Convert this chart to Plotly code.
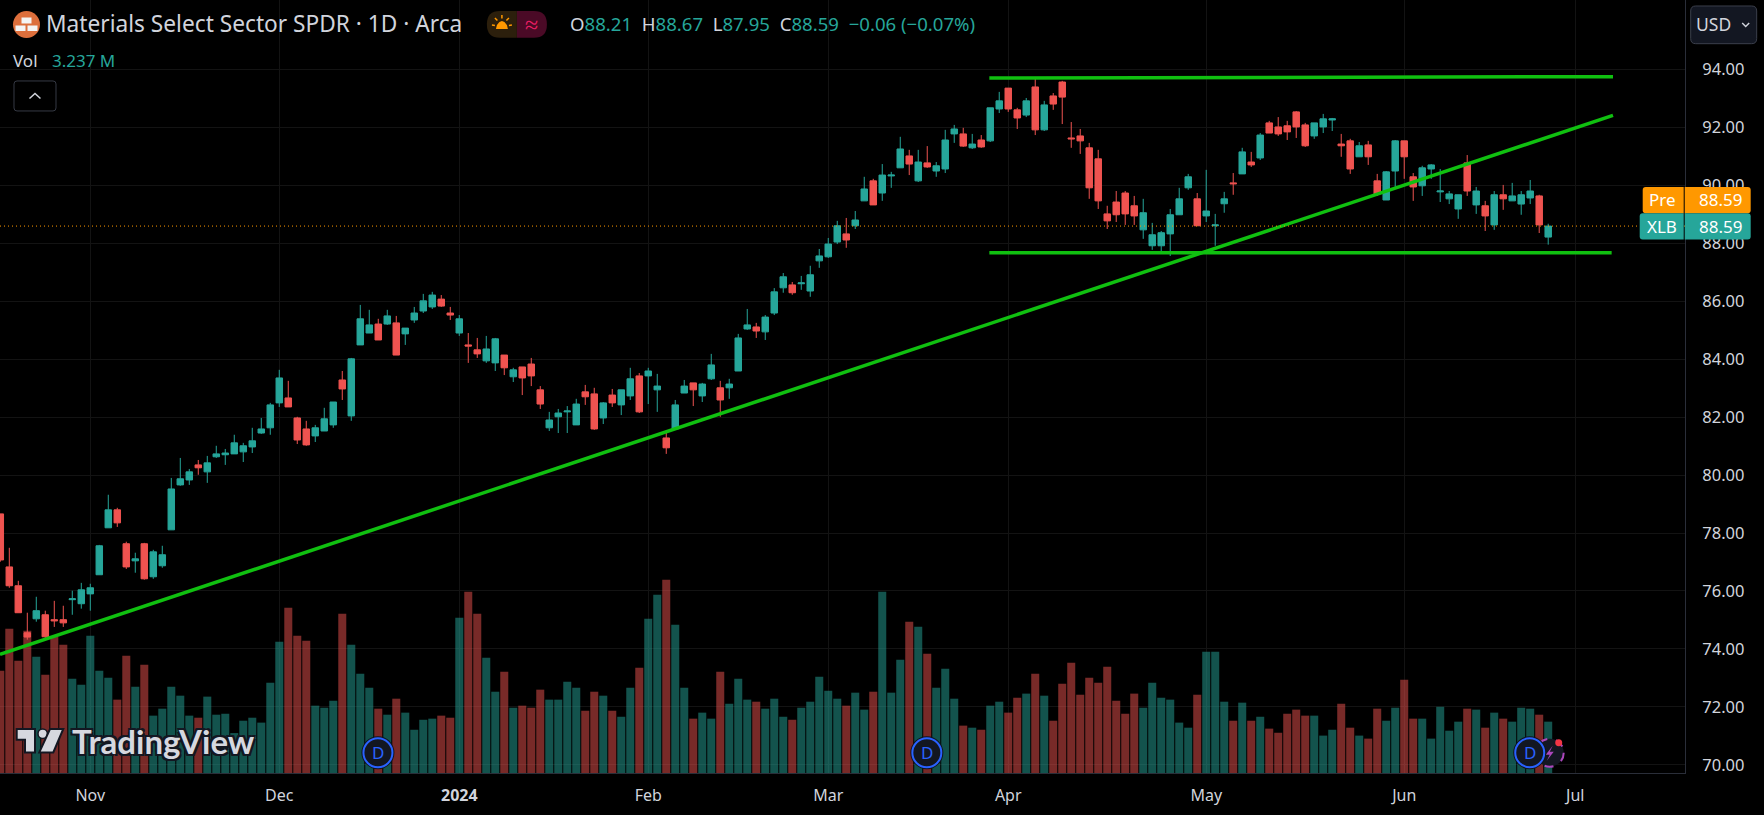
import plotly.graph_objects as go

# ---------- data (bar 0 = first session of Nov 2023) ----------
bar_index = list(range(-10, 163))
opens = [
78.66,76.83,76.18,74.56,75.04,75.18,75.01,75.01,75.70,75.56,
75.90,76.56,78.18,78.80,77.63,77.04,77.63,76.49,76.87,78.11,
79.66,79.83,80.35,80.11,80.63,80.70,80.73,80.80,80.97,81.45,
81.63,82.49,82.66,81.97,81.59,81.35,81.52,81.73,83.28,82.04,
84.49,84.90,85.21,85.21,85.25,84.87,85.35,85.66,85.80,86.07,
85.59,84.90,84.49,84.32,83.94,83.87,84.14,83.39,83.73,83.83,
82.94,81.63,82.01,82.18,81.73,82.87,82.80,81.97,82.76,82.42,
82.73,83.42,83.42,82.94,81.28,81.59,82.83,83.18,82.73,83.32,
83.01,83.01,83.59,85.04,85.11,84.94,85.59,86.46,86.56,86.60,
86.35,87.39,87.53,88.04,88.32,88.60,89.46,90.15,89.73,90.32,
90.60,91.01,90.15,90.77,90.49,90.56,91.77,91.77,91.29,91.56,
91.53,92.63,93.35,92.60,92.42,93.39,91.91,93.08,93.56,91.63,
91.70,91.29,90.91,89.01,89.42,89.73,89.29,88.46,87.91,87.91,
88.32,88.98,89.91,89.53,88.94,88.60,89.36,90.08,90.39,90.80,
90.94,92.15,92.01,92.05,92.53,92.08,91.70,92.01,92.25,91.42,
91.53,90.98,91.39,90.15,89.49,90.49,91.53,90.29,89.98,90.56,
89.77,89.53,89.18,90.77,89.32,89.29,88.63,89.67,89.46,89.35,
89.56,89.63,88.21]
closes = [
77.07,76.18,75.25,74.41,75.32,74.42,74.97,74.90,75.73,76.04,
76.11,77.56,78.80,78.35,76.83,77.11,76.42,77.35,77.25,79.52,
79.87,80.11,80.25,80.42,80.73,80.76,81.11,81.01,81.18,81.59,
82.42,83.35,82.35,81.21,81.04,81.63,81.94,82.52,82.97,84.01,
85.39,85.18,84.66,85.49,84.14,85.07,85.59,86.01,86.21,85.83,
85.52,85.39,84.45,84.18,84.35,84.70,83.70,83.63,83.35,83.42,
82.45,81.90,82.14,82.21,82.45,82.70,81.59,82.49,82.49,82.94,
83.32,82.18,83.59,83.07,80.94,82.42,83.07,82.94,83.14,83.80,
82.59,83.14,84.73,85.18,84.97,85.45,86.32,86.84,86.29,86.63,
86.91,87.56,87.97,88.60,88.11,88.80,89.87,89.32,90.35,90.35,
91.25,90.73,90.80,90.63,90.67,91.56,91.94,91.35,91.42,91.32,
92.67,92.91,92.63,92.32,92.91,91.91,92.77,92.80,93.04,91.60,
91.53,89.91,89.46,88.77,88.98,89.01,88.94,89.05,88.29,88.36,
88.98,89.53,90.29,88.60,89.11,88.63,89.53,90.05,91.15,90.70,
91.73,91.80,91.77,91.84,92.01,91.36,92.15,92.29,92.29,91.36,
90.56,91.36,90.98,89.70,90.46,91.53,90.98,89.94,90.60,90.70,
89.80,89.70,89.67,89.80,89.80,88.94,89.67,89.53,89.63,89.67,
89.80,88.63,88.59]
highs = [
78.66,77.49,76.35,75.25,75.80,75.32,75.66,75.49,76.01,76.28,
76.25,77.59,79.32,78.87,77.70,77.32,77.66,77.42,77.56,79.90,
80.59,80.21,80.52,80.66,81.01,80.90,81.39,81.11,81.63,81.97,
82.49,83.63,83.25,82.01,81.87,81.73,82.32,82.52,83.59,84.04,
85.87,85.70,85.39,85.70,85.49,85.07,85.80,86.25,86.32,86.21,
85.80,85.52,84.90,84.73,84.80,84.73,84.14,83.70,83.73,84.04,
83.07,82.18,82.28,82.38,82.63,83.11,83.01,82.52,82.97,82.94,
83.70,83.52,83.70,83.49,81.49,82.59,83.28,83.18,83.18,84.18,
83.25,83.32,84.87,85.73,85.25,85.52,86.45,86.97,86.66,86.87,
87.22,87.80,88.18,88.77,88.87,89.11,90.29,90.22,90.73,90.46,
91.67,91.22,91.22,91.35,90.80,91.91,92.08,91.98,91.77,91.73,
92.67,93.22,93.35,92.67,93.01,93.70,92.91,93.18,93.60,92.18,
91.94,91.46,91.22,89.29,89.80,89.80,89.63,89.53,88.70,88.42,
89.18,89.91,90.39,89.73,90.53,89.01,89.77,90.42,91.29,91.15,
91.80,92.22,92.35,92.22,92.56,92.15,92.15,92.46,92.32,91.77,
91.60,91.49,91.53,90.39,90.49,91.56,91.53,90.42,90.67,90.73,
90.56,89.80,89.67,91.04,89.94,89.46,89.80,90.01,90.08,89.80,
90.18,89.67,88.67]
lows = [
77.01,76.11,75.25,74.32,74.94,74.35,74.76,74.76,75.18,75.39,
75.32,76.56,78.18,78.21,76.76,76.63,76.39,76.42,76.80,78.11,
79.63,79.66,80.01,79.73,80.59,80.35,80.73,80.45,80.76,81.42,
81.39,82.35,82.35,81.07,81.01,81.14,81.52,81.63,82.59,81.87,
84.49,84.90,84.66,85.18,84.14,84.49,85.25,85.59,85.73,85.80,
85.35,84.80,83.87,84.04,83.87,83.59,83.45,83.21,82.76,83.07,
82.28,81.52,81.45,81.45,81.73,82.42,81.56,81.76,82.35,82.07,
82.59,82.14,82.45,82.18,80.73,81.59,82.83,82.38,82.52,83.28,
82.01,82.63,83.59,85.01,84.73,84.66,85.52,86.29,86.22,86.39,
86.15,87.15,87.49,87.97,87.84,88.49,89.46,89.32,89.46,89.91,
90.60,90.35,90.11,90.60,90.29,90.42,91.46,91.32,91.25,91.29,
91.49,92.49,92.53,91.94,92.35,91.73,91.87,92.60,92.11,91.29,
91.08,89.53,89.18,88.49,88.73,88.63,88.63,88.15,87.77,87.67,
87.56,88.98,89.84,88.60,88.73,87.91,89.05,89.67,90.39,90.63,
90.87,91.80,91.70,91.56,91.63,91.32,91.60,91.80,91.87,90.98,
90.39,90.98,90.70,89.63,89.49,89.94,90.22,89.46,89.63,90.22,
89.42,89.35,88.84,89.63,89.01,88.42,88.46,89.15,89.46,88.98,
89.35,88.35,87.95]
volumes_m = [
6.46,9.11,7.09,8.98,7.34,6.20,8.60,8.10,5.95,5.57,
8.66,6.46,6.01,4.63,7.40,5.45,6.83,3.62,4.06,5.45,
4.88,3.62,3.49,4.82,3.68,3.74,2.52,3.30,3.49,3.18,
5.70,8.29,10.43,8.66,8.35,4.25,4.12,4.56,10.05,8.10,
6.27,5.38,4.06,3.68,4.69,3.81,2.73,3.36,3.43,3.62,
3.49,9.80,11.44,10.05,7.28,5.13,6.39,4.12,4.25,4.12,
5.26,4.63,4.63,5.76,5.38,3.93,5.13,4.88,3.93,3.55,
5.38,6.65,9.74,11.25,12.20,9.36,5.38,3.43,3.81,3.43,
6.39,4.37,5.95,4.63,4.50,4.06,4.69,3.55,3.36,4.12,
4.50,6.08,5.19,4.69,4.25,5.07,4.00,5.13,11.44,5.07,
7.15,9.55,9.23,7.53,5.38,6.58,4.69,2.99,2.86,2.73,
4.25,4.50,3.81,4.75,5.01,6.27,4.88,3.30,5.64,6.96,
4.94,6.01,5.70,6.71,4.56,3.74,5.01,4.12,5.70,4.75,
4.63,3.18,2.86,4.94,7.65,7.65,4.50,3.30,4.44,3.30,
3.55,2.80,2.54,3.74,4.00,3.62,3.62,2.36,2.73,4.37,
2.86,2.36,2.17,4.06,3.30,4.12,5.89,3.43,3.43,2.17,
4.18,2.67,3.24,4.06,4.00,2.86,3.81,3.43,3.24,4.12,
4.06,3.68,3.24]

tick_bars = [0, 21, 41, 62, 82, 102, 124, 146, 165]
tick_labels = ["Nov", "Dec", "<b>2024</b>", "Feb", "Mar", "Apr", "May", "Jun", "Jul"]
price_ticks = [70, 72, 74, 76, 78, 80, 82, 84, 86, 88, 90, 92, 94]

trend_x = [-10.03, 169.2]
trend_y = [73.81, 92.41]
top_x = [99.9, 169.2]
top_y = [93.70, 93.745]
floor_x = [99.9, 169.05]
floor_y = [87.67, 87.67]
last_price = 88.59

# ---------- palette ----------
UP, DOWN = "#26a69a", "#ef5350"
GREEN = "#10c010"
TXT = "#d1d4dc"
GRID = "#131313"
AXIS = "#2a2e39"
PANEL = "#131722"
FONT = "Noto Sans"

W, H = 1764, 815
PW, PH = 1685.3, 773.3     # plot area, anchored top-left


def fx(p): return p / PW
def fy(p): return 1 - p / PH
def pt(x, y): return f"{fx(x):.6f},{fy(y):.6f}"


def rrect(x0, y0, x1, y1, r=4, left=True, right=True):
    rl = r if left else 0
    rr = r if right else 0
    return (f"M{pt(x0 + rl, y0)} L{pt(x1 - rr, y0)} Q{pt(x1, y0)} {pt(x1, y0 + rr)} "
            f"L{pt(x1, y1 - rr)} Q{pt(x1, y1)} {pt(x1 - rr, y1)} L{pt(x0 + rl, y1)} "
            f"Q{pt(x0, y1)} {pt(x0, y1 - rl)} L{pt(x0, y0 + rl)} Q{pt(x0, y0)} {pt(x0 + rl, y0)} Z")


def poly(points):
    return "M" + " L".join(pt(x, y) for x, y in points) + " Z"


shapes, notes = [], []


def add_path(path, fill, line=None, width=0):
    shapes.append(dict(type="path", xref="paper", yref="paper", path=path, fillcolor=fill,
                       line=dict(color=line or fill, width=width), layer="above"))


def add_circle(cx, cy, r, fill, line=None, width=0, dash=None):
    shapes.append(dict(type="circle", xref="paper", yref="paper", x0=fx(cx - r), x1=fx(cx + r),
                       y0=fy(cy + r), y1=fy(cy - r), fillcolor=fill,
                       line=dict(color=line or fill, width=width, dash=dash or "solid"), layer="above"))


def txt(x, y, s, size, color=TXT, anchor="left", font=FONT, weight=None, shadow=None):
    f = dict(size=size, color=color, family=font)
    if weight:
        f["weight"] = weight
    if shadow:
        f["shadow"] = shadow
    notes.append(dict(xref="paper", yref="paper", x=fx(x), y=fy(y), text=s, showarrow=False,
                      xanchor=anchor, yanchor="middle", font=f, borderpad=0, borderwidth=0))


fig = go.Figure()
bar_colors = ["rgba(38,166,154,0.5)" if c >= o else "rgba(239,83,80,0.5)" for o, c in zip(opens, closes)]
fig.add_trace(go.Bar(x=bar_index, y=volumes_m, marker=dict(color=bar_colors, line_width=0),
                     width=0.89, yaxis="y", xaxis="x", showlegend=False))
fig.add_trace(go.Candlestick(x=bar_index, open=opens, high=highs, low=lows, close=closes, yaxis="y2", xaxis="x",
                             increasing=dict(line=dict(color=UP, width=1), fillcolor=UP),
                             decreasing=dict(line=dict(color=DOWN, width=1), fillcolor=DOWN),
                             whiskerwidth=0, showlegend=False))
for xs, ys in [(trend_x, trend_y), (top_x, top_y), (floor_x, floor_y)]:
    fig.add_trace(go.Scatter(x=xs, y=ys, mode="lines", yaxis="y2", xaxis="x", showlegend=False,
                             line=dict(color=GREEN, width=3.5), cliponaxis=True))

# last-price dotted line
shapes.append(dict(type="line", xref="paper", yref="y2", x0=0, x1=1, y0=last_price, y1=last_price,
                   line=dict(color="#ff9800", width=1, dash="1px,3px"), layer="above"))

# header: symbol badge
add_circle(26.5, 24.5, 13.5, "#dd6f3c")
for x0, y0, x1, y1 in [(21.5, 17.5, 31.5, 23.5), (15.5, 25.5, 25.5, 31), (27.5, 25.5, 37.5, 31)]:
    add_path(poly([(x0, y0), (x1, y0), (x1, y1), (x0, y1)]), "#f4f4f4")
txt(46, 24, "Materials Select Sector SPDR · 1D · Arca", 22.7)

# market-status pill
add_path(rrect(487, 11, 517, 37.7, 13, right=False), "#2c1f0c")
add_path(rrect(517, 11, 547, 37.7, 13, left=False), "#4a0a26")
add_path(poly([(496, 29), (497, 25), (499.5, 22), (502, 21), (504.5, 22), (507, 25), (508, 29)]), "#ff9800")
for a, b, c, d in [(502, 15, 502, 18.5), (495, 18, 497.5, 20.5), (509, 18, 506.5, 20.5), (492, 25, 495, 25.5), (512, 25, 509, 25.5)]:
    shapes.append(dict(type="line", xref="paper", yref="paper", x0=fx(a), x1=fx(c), y0=fy(b), y1=fy(d),
                       line=dict(color="#ff9800", width=1.5), layer="above"))
txt(532, 24, "≈", 24, color="#e91e63", anchor="center")

# OHLC read-out
def sp(c, s): return f'<span style="color:{c}">{s}</span>'
ohlc = ("O" + sp(UP, "88.21") + "  H" + sp(UP, "88.67") + "  L" + sp(UP, "87.95") + "  C" + sp(UP, "88.59")
        + "  " + sp(UP, "−0.06 (−0.07%)"))
txt(570, 24, ohlc, 18.6)

# Vol legend + collapse button
txt(13, 61, "Vol", 17)
txt(52, 61, "3.237 M", 17, color=UP)
add_path(rrect(14, 81, 56, 111, 3), "#000000", line="#363a45", width=1)
shapes.append(dict(type="path", xref="paper", yref="paper", path=f"M{pt(29.5, 98.5)} L{pt(35, 93.5)} L{pt(40.5, 98.5)}",
                   line=dict(color=TXT, width=1.5), layer="above"))

# USD button
add_path(rrect(1691, 6, 1757, 43.7, 5), PANEL, line="#3b3f4b", width=1)
txt(1696, 24.5, "USD", 17.5)
shapes.append(dict(type="path", xref="paper", yref="paper", path=f"M{pt(1742.5, 23)} L{pt(1746, 26.5)} L{pt(1749.5, 23)}",
                   line=dict(color=TXT, width=1.5), layer="above"))

# price tags
add_path(rrect(1643, 187, 1684, 213.3, 3, right=False), "#ff9800")
add_path(rrect(1685, 187, 1751, 213.3, 3, left=False), "#ff9800")
add_path(rrect(1640, 213.3, 1684, 239.7, 3, right=False), UP)
add_path(rrect(1685, 213.3, 1751, 239.7, 3, left=False), UP)
txt(1663, 200, "Pre", 17, color="#ffffff", anchor="center")
txt(1721, 200, "88.59", 17, color="#ffffff", anchor="center")
txt(1662, 226.5, "XLB", 17, color="#ffffff", anchor="center")
txt(1721, 226.5, "88.59", 17, color="#ffffff", anchor="center")

# TradingView watermark
LOGO = "#d6d8df"
add_path(poly([(16.7, 729.3), (35, 729.3), (35, 752.7), (25, 752.7), (25, 740), (16.7, 740)]), LOGO, line=PANEL, width=2)
add_circle(42.7, 734, 4.7, LOGO, line=PANEL, width=1.5)
add_path(poly([(50, 729.3), (63.3, 729.3), (53.3, 752.7), (39.3, 752.7)]), LOGO, line=PANEL, width=2)
txt(72, 741, "TradingView", 33, color=LOGO, font="Lato", weight=700,
    shadow=f"-2px -2px 0 {PANEL}, 2px -2px 0 {PANEL}, -2px 2px 0 {PANEL}, 2px 2px 0 {PANEL}")

# dividend badges
add_circle(1550, 753, 14, PANEL, line="#ab47bc", width=2, dash="dash")
add_path(poly([(1553, 746), (1546, 755), (1550, 755), (1547, 761), (1554, 752), (1550, 752)]), "#ab47bc")
add_circle(1559, 743, 3.5, "#f23645")
for cx in (378, 927, 1530):
    add_circle(cx, 753, 16.5, "#10131c")
    add_circle(cx, 753, 14.5, PANEL, line="#2962ff", width=2)
    txt(cx, 753, "D", 17, color="#2962ff", anchor="center")

fig.update_layout(
    width=W, height=H, paper_bgcolor="#000000", plot_bgcolor="#000000",
    margin=dict(l=0, t=0, r=W - PW, b=H - PH, autoexpand=False, pad=0),
    boxgap=0.28, boxgroupgap=0, showlegend=False, hovermode=False,
    font=dict(family=FONT, color=TXT, size=14),
    xaxis=dict(range=[-10.033, 177.2], tickmode="array", tickvals=tick_bars, ticktext=tick_labels,
               showgrid=True, gridcolor=GRID, gridwidth=1, zeroline=False, showline=True, linecolor=AXIS,
               linewidth=1, ticks="", tickfont=dict(size=16, color=TXT, family=FONT), rangeslider=dict(visible=False),
               ticklabelstandoff=8),
    yaxis=dict(range=[0, 48.79], showgrid=False, zeroline=False, showticklabels=False, ticks=""),
    yaxis2=dict(range=[69.72, 96.39], overlaying="y", side="right", tickmode="array", tickvals=price_ticks,
                ticktext=[f"{v:.2f}" for v in price_ticks], showgrid=True, gridcolor=GRID, gridwidth=1,
                zeroline=False, showline=True, linecolor=AXIS, linewidth=1, ticks="",
                tickfont=dict(size=16.5, color=TXT, family=FONT), ticklabelstandoff=13),
    shapes=shapes, annotations=notes,
)

fig.write_html("out.html", config=dict(displayModeBar=False, staticPlot=True),
               post_script="document.body.style.margin='0';document.body.style.overflow='hidden';document.body.style.background='#000';")
